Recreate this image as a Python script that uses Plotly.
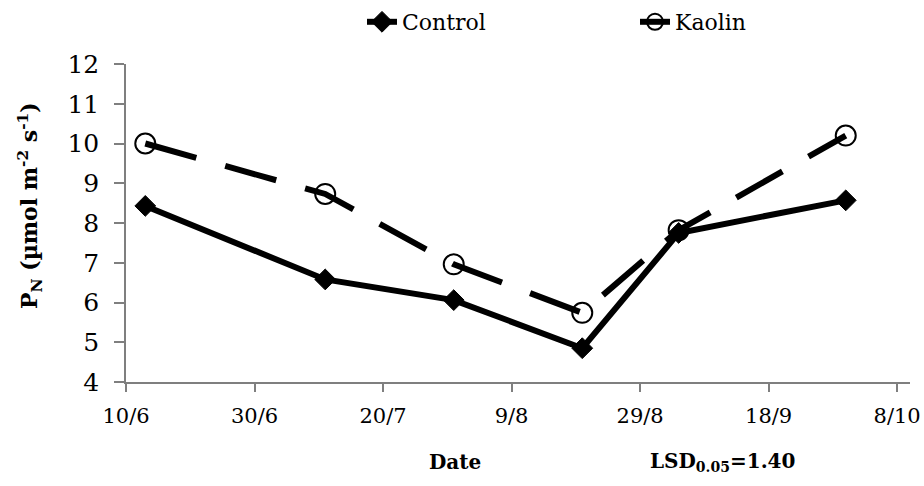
import plotly.graph_objects as go

# Sampling dates (day/month) and net photosynthesis P_N (µmol m-2 s-1)
dates = ["2005-06-13", "2005-07-11", "2005-07-31", "2005-08-20", "2005-09-04", "2005-09-30"]
control = [8.43, 6.58, 6.06, 4.85, 7.75, 8.57]
kaolin = [10.0, 8.73, 6.96, 5.74, 7.82, 10.2]

series_names = ["Control", "Kaolin"]
y_title = "P<sub>N</sub> (µmol m<sup>-2</sup> s<sup>-1</sup>)"
x_title = "Date"
lsd_label = "LSD<sub>0.05</sub>=1.40"

FONT = "DejaVu Serif"
AXIS_GREY = "#7f7f7f"

fig = go.Figure()

# Kaolin drawn first so the Control line sits on top where they cross
fig.add_trace(go.Scatter(
    x=dates, y=kaolin, name=series_names[1], mode="lines+markers",
    line=dict(color="black", width=6, dash="53px,30px"),
    marker=dict(symbol="circle-open", size=20, color="black", line=dict(width=2)),
))
fig.add_trace(go.Scatter(
    x=dates, y=control, name=series_names[0], mode="lines+markers",
    line=dict(color="black", width=6),
    marker=dict(symbol="diamond", size=16, color="black", line=dict(width=1, color="black")),
))

plot_w = 924 - 126 - 14
plot_h = 486 - 64 - 104

fig.update_layout(
    width=924, height=486,
    margin=dict(l=126, r=14, t=64, b=104, autoexpand=False),
    paper_bgcolor="white", plot_bgcolor="white",
    font=dict(family=FONT, color="black", size=22),
    showlegend=True,
    legend=dict(
        orientation="h", traceorder="reversed",
        x=(362 - 126) / plot_w, y=1 + (64 - 22) / plot_h,
        xanchor="left", yanchor="middle",
        font=dict(family=FONT, size=22), entrywidth=228,
        bgcolor="rgba(0,0,0,0)",
    ),
    xaxis=dict(
        type="date", range=["2005-06-10", "2005-10-10"], automargin=False,
        tick0="2005-06-10", dtick=20 * 86400000, tickformat="%-d/%-m",
        showline=True, linecolor=AXIS_GREY, linewidth=1.5,
        ticks="outside", ticklen=8, tickcolor=AXIS_GREY, tickwidth=1.5,
        showgrid=False, zeroline=False, ticklabelstandoff=6,
        tickfont=dict(family=FONT, size=21),
    ),
    yaxis=dict(
        range=[4, 12], dtick=1, automargin=False,
        showline=True, linecolor=AXIS_GREY, linewidth=1.5,
        ticks="outside", ticklen=10, tickcolor=AXIS_GREY, tickwidth=1.5,
        showgrid=False, zeroline=False, ticklabelstandoff=10,
        tickfont=dict(family=FONT, size=25),
    ),
    annotations=[
        # vertical axis title, sitting a little above the plot's middle
        dict(text="<b>" + y_title + "</b>", xref="paper", yref="paper",
             x=(30 - 126) / plot_w, y=(382 - 206) / plot_h, textangle=-90,
             xanchor="center", yanchor="middle", showarrow=False,
             font=dict(family=FONT, size=22)),
        dict(text="<b>" + x_title + "</b>", xref="paper", yref="paper",
             x=(455 - 126) / plot_w, y=-(462 - 382) / plot_h,
             xanchor="center", yanchor="middle", showarrow=False,
             font=dict(family=FONT, size=20)),
        dict(text="<b>" + lsd_label + "</b>", xref="paper", yref="paper",
             x=(722 - 126) / plot_w, y=-(462 - 382) / plot_h,
             xanchor="center", yanchor="middle", showarrow=False,
             font=dict(family=FONT, size=20)),
    ],
)

fig.write_html("out.html")
